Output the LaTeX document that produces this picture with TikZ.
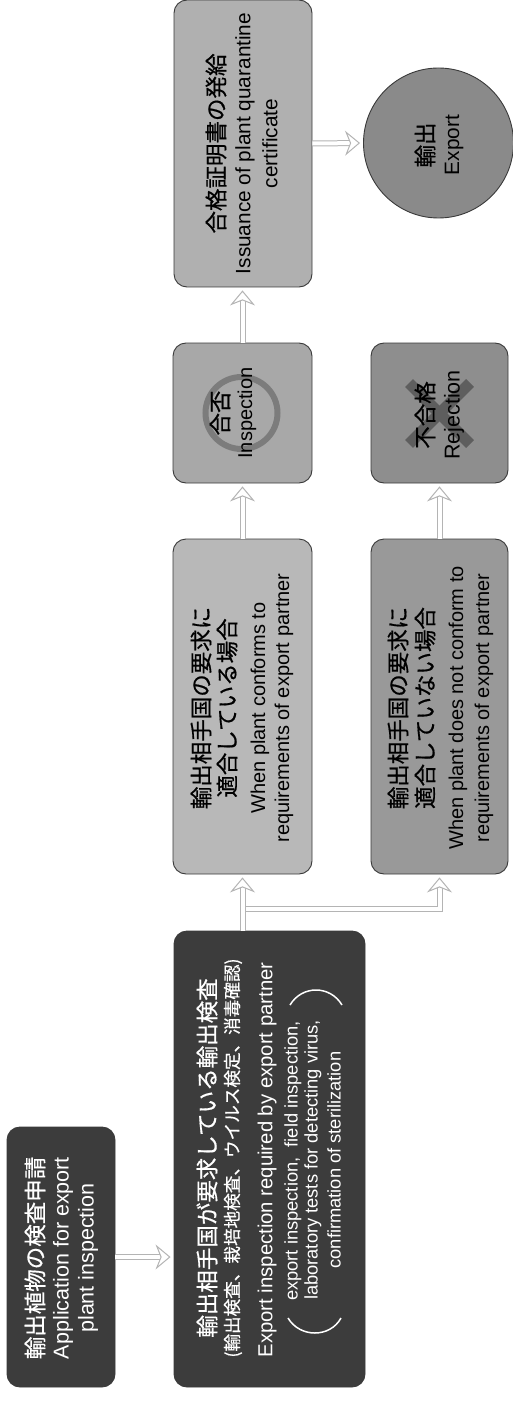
\documentclass[tikz,border=0pt]{standalone}
\usepackage{fontspec}
\setmainfont{Liberation Sans}
\newfontfamily\cjk[FakeBold=0.6]{Noto Sans CJK JP}
\usetikzlibrary{arrows.meta,calc}
\definecolor{arrowgray}{HTML}{B4B4B4}
\definecolor{edgegray}{HTML}{3A3A3A}
\definecolor{darkbox}{HTML}{3C3C3C}
\definecolor{certfill}{HTML}{B0B0B0}
\definecolor{stampfill}{HTML}{A8A8A8}
\definecolor{rejfill}{HTML}{8E8E8E}
\definecolor{expfill}{HTML}{8A8A8A}
\definecolor{confill}{HTML}{B8B8B8}
\definecolor{nonfill}{HTML}{999999}
\definecolor{markfill}{HTML}{5E5E5E}
\definecolor{ringfill}{HTML}{7C7C7C}
\tikzset{
 flowbox/.style={draw=edgegray,line width=0.9pt,rounded corners=13pt,rotate=90,inner sep=0pt},
 jp/.style={rotate=90,inner sep=0pt,font=\cjk\fontsize{22.5}{26}\selectfont},
 jpsmall/.style={rotate=90,inner sep=0pt,font=\cjk\fontsize{17.6}{20}\selectfont},
 en/.style={rotate=90,inner sep=0pt,font=\fontsize{20}{24}\selectfont},
 enwide/.style={rotate=90,inner sep=0pt,font=\fontsize{21.5}{24}\selectfont},
 ensmall/.style={rotate=90,inner sep=0pt,font=\fontsize{18.3}{21}\selectfont},
 flowplain/.style={draw=arrowgray,double=white,double distance=4pt,line width=1pt},
 flowline/.style={flowplain,shorten >=3pt,-{Stealth[length=15pt,width=25pt,inset=5pt,fill=white,line width=1pt]}}
}
\begin{document}
\begin{tikzpicture}[x=1pt,y=-1pt,every node/.append style={text=black}]
\useasboundingbox (0,0) rectangle (513,1404);
% boxes
\node[flowbox,fill=darkbox,minimum width=260pt,minimum height=108pt] (app) at (61,1257) {};
\node[flowbox,fill=darkbox,minimum width=456pt,minimum height=191pt] (main) at (269.5,1159) {};
\node[flowbox,fill=confill,minimum width=335pt,minimum height=139pt] (con) at (242.5,706.5) {};
\node[flowbox,fill=nonfill,minimum width=335pt,minimum height=137pt] (non) at (439.5,706.5) {};
\node[flowbox,fill=stampfill,minimum width=140pt,minimum height=139pt] (stamp) at (242.5,413) {};
\node[flowbox,fill=rejfill,minimum width=140pt,minimum height=137pt] (rej) at (439.5,413) {};
\node[flowbox,fill=certfill,minimum width=287pt,minimum height=138pt] (cert) at (243,143.5) {};
\node[circle,draw=edgegray,line width=0.9pt,fill=expfill,minimum size=150pt,inner sep=0pt] (exp) at (438.5,143) {};
% connectors
\draw[flowline] (app.south) -- (app.south -| main.north);
\coordinate (branch) at (243,909);
\draw[flowline] (branch) -| (non.west);
\draw[flowline] (con |- main.east) -- (con.west);
\draw[flowline] (con.east) -- (stamp.west);
\draw[flowline] (non.east) -- (rej.west);
\draw[flowline] (stamp.east) -- (stamp.east |- cert.west);
\draw[flowline] (cert.south) -- (exp.west);
% application
\node[jp,text=white] (t1) at (35,1258) {輸出植物の検査申請};
\node[enwide,text=white] (t2) at (63,1258) {Application for export};
\node[enwide,text=white] (t3) at (88,1258) {plant inspection};
% main
\node[jp,text=white] (t4) at (207,1158) {輸出相手国が要求している輸出検査};
\node[jpsmall,text=white] (t5) at (233,1158) {(輸出検査、栽培地検査、ウイルス検定、消毒確認)};
\node[en,text=white,font=\fontsize{20.3}{24}\selectfont] (t6) at (267,1160) {Export inspection required by export partner};
\node[ensmall,text=white] (t7) at (293,1161) {export inspection,\ \ field inspection,};
\node[ensmall,text=white] (t8) at (313,1160) {laboratory tests for detecting virus,};
\node[ensmall,text=white] (t9) at (334,1160) {confirmation of sterilization};
\draw[white,line width=1.5pt] (288,1318) .. controls (300,1338) and (330,1338) .. (341,1318);
\draw[white,line width=1.5pt] (290,1005) .. controls (302,985) and (330,985) .. (342,1005);
% conform
\node[jp] (t10) at (201,708) {輸出相手国の要求に};
\node[jp] (t11) at (227,708) {適合している場合};
\node[en] (t12) at (260,708) {When plant conforms to};
\node[en] (t13) at (284,708) {requirements of export partner};
% non conform
\node[jp] (t14) at (398,708) {輸出相手国の要求に};
\node[jp] (t15) at (425,708) {適合していない場合};
\node[en] (t16) at (458,708) {When plant does not conform to};
\node[en] (t17) at (484,708) {requirements of export partner};
% stamp
\draw[ringfill,line width=6pt] (241.5,413) circle (36pt);
\node[jp] (t18) at (220,413) {合否};
\node[en] (t19) at (247,413) {Inspection};
% rejection
\draw[markfill,line width=11pt] (409,383) -- (470,444);
\draw[markfill,line width=11pt] (470,383) -- (409,444);
\node[jp] (t20) at (425,415) {不合格};
\node[en,font=\fontsize{21.5}{24}\selectfont] (t21) at (454,415) {Rejection};
% certificate
\node[jp] (t22) at (216,143.5) {合格証明書の発給};
\node[en,font=\fontsize{20.8}{24}\selectfont] (t23) at (245,143.5) {Issuance of plant quarantine};
\node[en,font=\fontsize{20.8}{24}\selectfont] (t24) at (270,143.5) {certificate};
% export
\node[jp] (t25) at (425,145) {輸出};
\node[en,font=\fontsize{20.8}{24}\selectfont] (t26) at (454,145) {Export};
\end{tikzpicture}
\end{document}
